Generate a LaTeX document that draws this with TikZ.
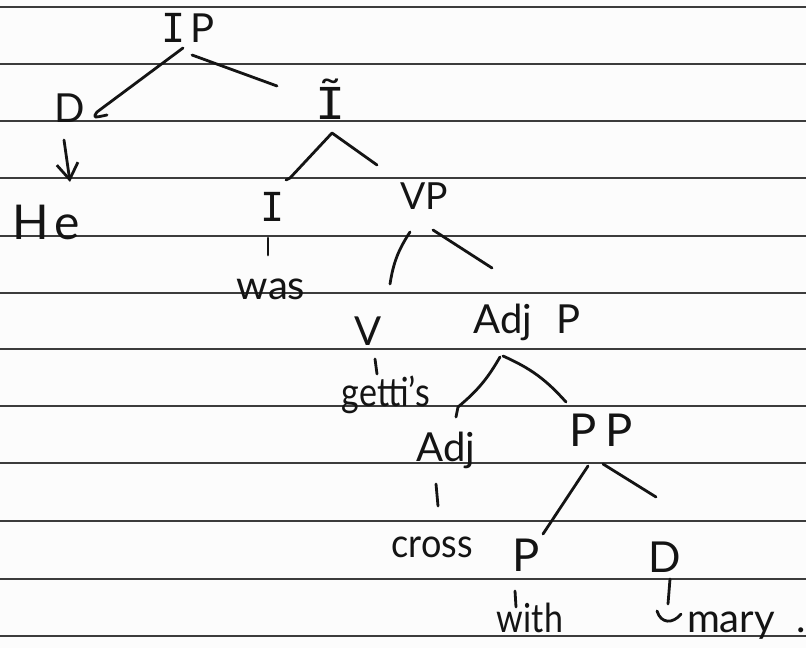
\documentclass[tikz,border=0pt]{standalone}
\usepackage{fontspec}
\setmainfont{Lato}
\newfontfamily\barfont{DejaVu Sans Mono}
\usepackage{graphicx}
\usetikzlibrary{arrows.meta}
\definecolor{ink}{HTML}{141414}
\definecolor{rulegray}{HTML}{3C3C3C}
\definecolor{paper}{HTML}{FCFCFC}
% capital I written with bars
\newcommand{\barI}{{\barfont I}}
\tikzset{
  ruling/.style={draw=rulegray, line width=1.2pt},
  pen/.style={draw=ink, line width=2.1pt, line cap=round, line join=round},
  cat/.style={text=ink, anchor=base, inner sep=0pt, font=\fontsize{30}{30}\selectfont},
  word/.style={text=ink, anchor=base, inner sep=0pt, font=\fontsize{30}{30}\selectfont},
}
\begin{document}
\begin{tikzpicture}[x=0.75pt,y=-0.75pt]
  % sheet of ruled paper
  \fill[paper] (0,0) rectangle (806,648);
  \useasboundingbox (0,0) rectangle (806,648);
  \foreach \yy in {7,64,121,178,236,293,349,406,463,521,579,636}
    \draw[ruling] (0,\yy) -- (806,\yy);

  % labels of the tree
  \node[cat]  (ip)     at (188,43)  {\barI\kern4pt P};
  \node[cat]  (d1)     at (70,123)  {D};
  \node[cat]  (ibar)   at (331,120) {\scalebox{1.25}[1.1]{\barfont Ĩ}};
  \node[word, font=\fontsize{36}{36}\selectfont] (he) at (46,240) {H\kern4pt e};
  \node[cat]  (i)      at (273,222) {\barI};
  \node[word] (was)    at (271,300) {was};
  \node[cat, font=\fontsize{28}{28}\selectfont] (vp) at (424,210) {VP};
  \node[cat]  (v)      at (368,345) {V};
  \node[word] (gettis) at (386,406) {\scalebox{0.85}[1]{getti's}};
  \node[cat]  (adjp)   at (527,334) {Adj\kern18pt P};
  \node[cat]  (adj)    at (446,461) {Adj};
  \node[cat, font=\fontsize{34}{34}\selectfont] (pp) at (601,446) {P\kern6pt P};
  \node[word] (cross)  at (432,557) {\scalebox{0.9}[1]{cross}};
  \node[cat, font=\fontsize{34}{34}\selectfont] (p) at (526,571) {P};
  \node[cat, font=\fontsize{32}{32}\selectfont] (d2) at (665,572) {D};
  \node[word] (with)   at (530,632) {\scalebox{0.85}[1]{with}};
  \node[word] (mary)   at (731,632) {mary};
  \node[word] (stop)   at (801,632) {.};

  % branches
  \draw[pen] ([shift={(-5,5)}]ip.base) -- ([shift={(27,-11)}]d1.base)
             .. controls ([shift={(23,-5)}]d1.base) .. ([shift={(37,-8)}]d1.base);
  \draw[pen] ([shift={(4,12)}]ip.base) -- ([shift={(-54,-34)}]ibar.base);
  \draw[pen, -{Straight Barb[length=12pt,width=16pt]}]
             ([shift={(-6,17)}]d1.base) -- ([shift={(24,-58)}]he.base);
  \draw[pen] ([shift={(-47,-45)}]vp.base) -- ([shift={(1,13)}]ibar.base)
             -- ([shift={(17,-44)}]i.base) -- ([shift={(13,-42)}]i.base);
  \draw[pen] ([shift={(-5,16)}]i.base) -- ([shift={(-3,-45)}]was.base);
  \draw[pen] ([shift={(-14,22)}]vp.base) to[bend right=12] ([shift={(22,-61)}]v.base);
  \draw[pen] ([shift={(9,20)}]vp.base) -- ([shift={(-35,-66)}]adjp.base);
  \draw[pen] ([shift={(7,14)}]v.base) -- ([shift={(-9,-32)}]gettis.base);
  \draw[pen] ([shift={(-27,23)}]adjp.base) to[bend left=10] ([shift={(12,-54)}]adj.base)
             -- ([shift={(10,-44)}]adj.base);
  \draw[pen] ([shift={(-24,22)}]adjp.base) to[bend left=12] ([shift={(-35,-44)}]pp.base);
  \draw[pen] ([shift={(-10,23)}]adj.base) -- ([shift={(6,-51)}]cross.base);
  \draw[pen] ([shift={(-13,20)}]pp.base) -- ([shift={(17,-37)}]p.base);
  \draw[pen] ([shift={(2,18)}]pp.base) -- ([shift={(-9,-75)}]d2.base);
  \draw[pen] ([shift={(-11,20)}]p.base) -- ([shift={(-14,-25)}]with.base);
  \draw[pen] ([shift={(5,7)}]d2.base) -- ([shift={(-63,-28)}]mary.base);
  % little hook written before the last word
  \draw[pen] ([shift={(-74,-21)}]mary.base) .. controls ([shift={(-70,-8)}]mary.base)
             and ([shift={(-58,-8)}]mary.base) .. ([shift={(-50,-18)}]mary.base);
\end{tikzpicture}
\end{document}
